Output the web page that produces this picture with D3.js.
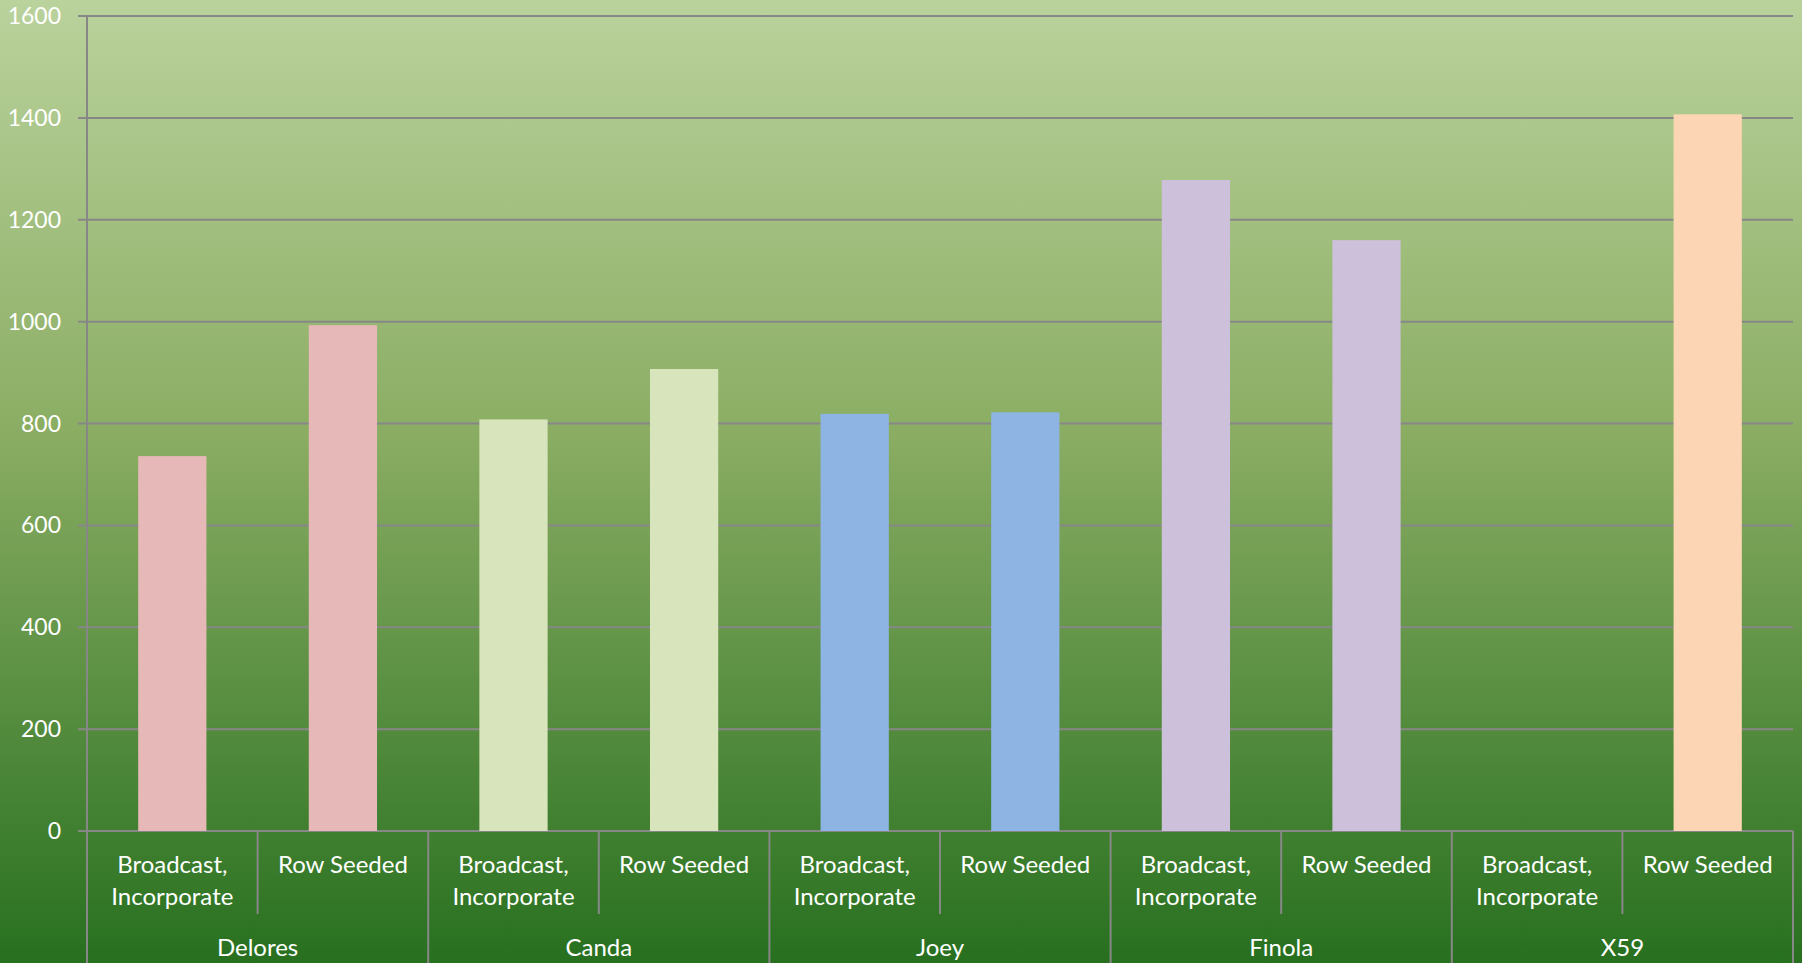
<!DOCTYPE html>
<html>
<head>
<meta charset="utf-8">
<script src="https://cdn.jsdelivr.net/npm/d3@7"></script>
<style>
  body { margin: 0; overflow: hidden; }
  svg { display: block; }
</style>
</head>
<body>
<svg id="chart" width="1802" height="963"></svg>
<script>
// varieties and seeding methods
const groups = ["Delores", "Canda", "Joey", "Finola", "X59"];
const methods = ["Broadcast, Incorporate", "Row Seeded"];
const broadcastValues = [736, 808, 819, 1278, null];
const rowSeededValues = [993, 907, 822, 1160, 1407];
const groupColors = ["#e6b8b7", "#d8e4bc", "#8db4e2", "#ccc0da", "#fcd5b4"];
const yTicks = [0, 200, 400, 600, 800, 1000, 1200, 1400, 1600];

let data = [];
groups.forEach((g, i) => {
    data.push({ group: g, method: methods[0], value: broadcastValues[i], color: groupColors[i] });
    data.push({ group: g, method: methods[1], value: rowSeededValues[i], color: groupColors[i] });
});

const svg = d3.select("#chart");
const width = 1802, height = 963;
const plotLeft = 87, plotRight = 1793, plotTop = 16, plotBottom = 831;

// background gradient
const defs = svg.append("defs");
const grad = defs.append("linearGradient")
    .attr("id", "bg")
    .attr("x1", 0).attr("y1", 0).attr("x2", 0).attr("y2", 1);
grad.append("stop").attr("offset", "0%").attr("stop-color", "#bad29c");
grad.append("stop").attr("offset", "45%").attr("stop-color", "#8aad63");
grad.append("stop").attr("offset", "100%").attr("stop-color", "#27701f");

svg.append("rect")
    .attr("width", width).attr("height", height)
    .attr("fill", "url(#bg)");

let y = d3.scaleLinear().domain([0, 1600]).range([plotBottom, plotTop]);

let xOuter = d3.scaleBand().domain(groups).range([plotLeft, plotRight]);
let xInner = d3.scaleBand().domain(methods).range([0, xOuter.bandwidth()]).paddingInner(0.6).paddingOuter(0.3);
let xSub = d3.scaleBand().domain(methods).range([0, xOuter.bandwidth()]);

const font = "Lato, 'Open Sans', sans-serif";
const gridColor = "#878787";

// gridlines + y labels
let yAxis = svg.append("g");
yAxis.selectAll("line")
    .data(yTicks)
    .enter()
    .append("line")
    .attr("x1", plotLeft - 9)
    .attr("x2", plotRight)
    .attr("y1", d => y(d))
    .attr("y2", d => y(d))
    .attr("stroke", gridColor)
    .attr("stroke-width", 2);

yAxis.selectAll("text")
    .data(yTicks)
    .enter()
    .append("text")
    .attr("x", plotLeft - 26)
    .attr("y", d => y(d))
    .attr("dy", "0.35em")
    .attr("text-anchor", "end")
    .attr("fill", "#ffffff")
    .style("font-family", font)
    .style("font-size", "23px")
    .text(d => d);

// bars
svg.append("g")
    .selectAll("rect")
    .data(data.filter(d => d.value != null))
    .enter()
    .append("rect")
    .attr("x", d => xOuter(d.group) + xInner(d.method))
    .attr("width", xInner.bandwidth())
    .attr("y", d => y(d.value))
    .attr("height", d => y(0) - y(d.value))
    .attr("fill", d => d.color);

// axes lines
svg.append("line")
    .attr("x1", plotLeft).attr("x2", plotLeft)
    .attr("y1", plotTop).attr("y2", height)
    .attr("stroke", gridColor).attr("stroke-width", 2);

// sub-category dividers
let subDiv = [];
groups.forEach(g => subDiv.push(xOuter(g) + xSub(methods[1])));
svg.append("g")
    .selectAll("line")
    .data(subDiv)
    .enter()
    .append("line")
    .attr("x1", d => d).attr("x2", d => d)
    .attr("y1", plotBottom).attr("y2", 914)
    .attr("stroke", gridColor).attr("stroke-width", 2);

// group dividers
svg.append("g")
    .selectAll("line")
    .data(groups.map(g => xOuter(g) + xOuter.bandwidth()))
    .enter()
    .append("line")
    .attr("x1", d => d).attr("x2", d => d)
    .attr("y1", plotBottom).attr("y2", height)
    .attr("stroke", gridColor).attr("stroke-width", 2);

// category labels
let catLabels = svg.append("g")
    .attr("fill", "#ffffff")
    .style("font-family", font)
    .style("font-size", "24px")
    .attr("text-anchor", "middle");

data.forEach(d => {
    let cx = xOuter(d.group) + xSub(d.method) + xSub.bandwidth() / 2;
    let lines = d.method.indexOf(",") > 0 ? ["Broadcast,", "Incorporate"] : [d.method];
    lines.forEach((t, i) => {
        catLabels.append("text")
            .attr("x", cx)
            .attr("y", 865 + i * 32)
            .attr("dy", "0.35em")
            .text(t);
    });
});

catLabels.selectAll(".grp")
    .data(groups)
    .enter()
    .append("text")
    .attr("class", "grp")
    .attr("x", d => xOuter(d) + xOuter.bandwidth() / 2)
    .attr("y", 948)
    .attr("dy", "0.35em")
    .text(d => d);
</script>
</body>
</html>
